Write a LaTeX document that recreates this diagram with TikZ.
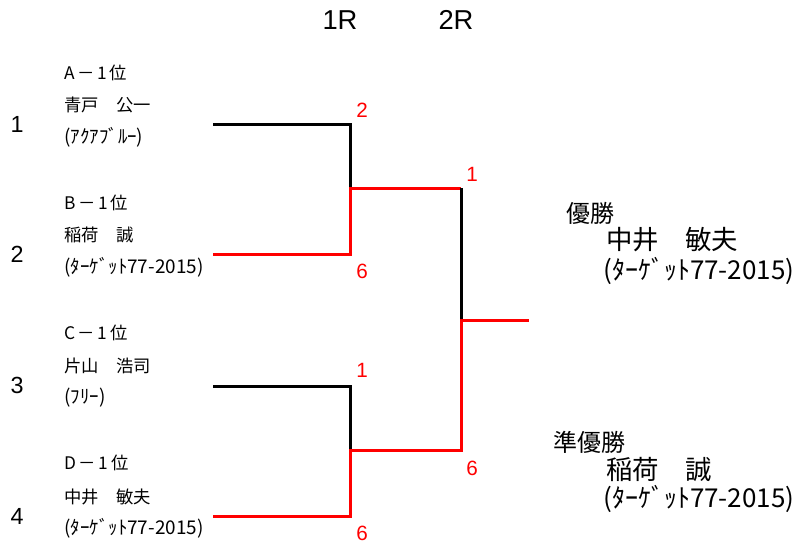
\documentclass[tikz,border=0pt]{standalone}
\usepackage{fontspec}
\setmainfont{Liberation Sans}
\newfontfamily\jp{Noto Sans CJK JP}
\begin{document}
\begin{tikzpicture}[x=0.75pt,y=-0.75pt,
  entry/.style={anchor=west,inner sep=0pt,font=\jp\fontsize{13}{13}\selectfont},
  team/.style={anchor=west,inner sep=0pt,font=\jp\fontsize{14.2}{14.2}\selectfont},
  seed/.style={inner sep=0pt,font=\fontsize{17.5}{17.5}\selectfont},
  score/.style={inner sep=0pt,text=red,font=\fontsize{15.5}{15.5}\selectfont},
  rnd/.style={inner sep=0pt,font=\fontsize{20.5}{20.5}\selectfont},
  title/.style={anchor=west,inner sep=0pt,font=\jp\fontsize{18}{18}\selectfont},
  champ/.style={anchor=west,inner sep=0pt,font=\jp\fontsize{19.8}{19.8}\selectfont},
  champteam/.style={anchor=west,inner sep=0pt,font=\jp\fontsize{19.5}{19.5}\selectfont},
  win/.style={draw=red,line width=2.25pt},
  lose/.style={draw=black,line width=2.25pt}]
\useasboundingbox (0,0) rectangle (799,549);
% round headers
\node[rnd] (r1) at (340,20) {1R};
\node[rnd] (r2) at (456,20) {2R};
% seeds
\node[seed] (s1) at (17,124) {1};
\node[seed] (s2) at (17,254) {2};
\node[seed] (s3) at (17,385) {3};
\node[seed] (s4) at (17,516) {4};
% entries
\node[entry] (a1) at (64,73) {A\kern2pt－\kern2pt1\kern2pt位};
\node[entry] (a2) at (64,105) {青戸　公一};
\node[team]  (a3) at (64,137) {(ｱｸｱﾌﾞﾙｰ)};
\node[entry] (b1) at (64,203) {B\kern2pt－\kern2pt1\kern2pt位};
\node[entry] (b2) at (64,235) {稲荷　誠};
\node[team]  (b3) at (64,267) {(ﾀｰｹﾞｯﾄ77-2015)};
\node[entry] (c1) at (64,333) {C\kern2pt－\kern2pt1\kern2pt位};
\node[entry] (c2) at (64,366) {片山　浩司};
\node[team]  (c3) at (64,398) {(ﾌﾘｰ)};
\node[entry] (d1) at (64,463) {D\kern2pt－\kern2pt1\kern2pt位};
\node[entry] (d2) at (64,497) {中井　敏夫};
\node[team]  (d3) at (64,528) {(ﾀｰｹﾞｯﾄ77-2015)};
% bracket coordinates
\coordinate (p1) at (213,125);
\coordinate (p2) at (213,254);
\coordinate (p3) at (213,386);
\coordinate (p4) at (213,516);
\coordinate (m1) at (350,188);
\coordinate (m2) at (350,450);
\coordinate (f1) at (461,188);
\coordinate (f2) at (461,450);
\coordinate (fm) at (461,320);
\coordinate (out) at (529,320);
% lines
\draw[lose] (p1) -| (m1);
\draw[win] (p2) -| (m1) -- (f1);
\draw[lose] (f1) -- (fm);
\draw[lose] (p3) -| (m2);
\draw[win] (p4) -| (m2) -- (f2) -- (fm) -- (out);
% scores
\node[score] (sc1) at (362,110) {2};
\node[score] (sc2) at (362,271) {6};
\node[score] (sc3) at (362,370) {1};
\node[score] (sc4) at (362,533) {6};
\node[score] (sc5) at (472,174) {1};
\node[score] (sc6) at (472,468) {6};
% results
\node[title] (w0) at (566,213) {優勝};
\node[champ] (w1) at (606,240) {中井　敏夫};
\node[champteam] (w2) at (603,271) {(ﾀｰｹﾞｯﾄ77-2015)};
\node[title] (u0) at (553,442) {準優勝};
\node[champ] (u1) at (606,469) {稲荷　誠};
\node[champteam] (u2) at (603,499) {(ﾀｰｹﾞｯﾄ77-2015)};
\end{tikzpicture}
\end{document}
